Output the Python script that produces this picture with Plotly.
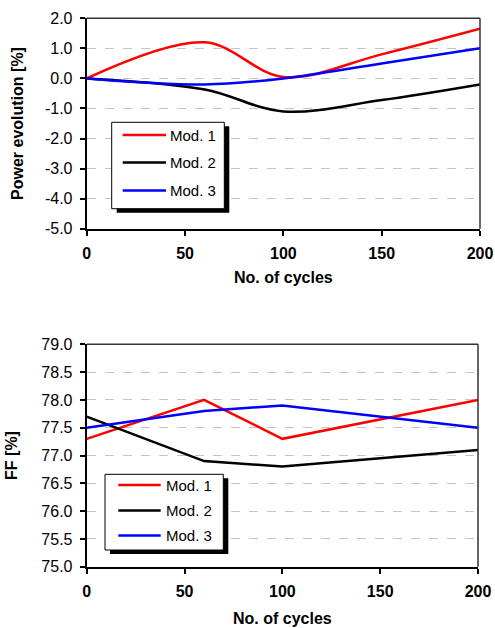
import plotly.graph_objects as go

# ---- data ----
cycles = [0, 60, 100, 150, 200]
power_mod1 = [0.0, 1.2, 0.05, 0.8, 1.65]
power_mod2 = [0.0, -0.37, -1.1, -0.72, -0.2]
power_mod3 = [0.0, -0.2, 0.0, 0.5, 1.0]

ff_cycles = [0, 60, 100, 200]
ff_mod1 = [77.3, 78.0, 77.3, 78.0]
ff_mod2 = [77.7, 76.9, 76.8, 77.1]
ff_mod3 = [77.5, 77.8, 77.9, 77.5]

names = ["Mod. 1", "Mod. 2", "Mod. 3"]
colors = ["#ff0000", "#000000", "#0000ff"]

power_ticks = [2.0, 1.0, 0.0, -1.0, -2.0, -3.0, -4.0, -5.0]
power_ticklabels = ["2.0", "1.0", "0.0", "-1.0", "-2.0", "-3.0", "-4.0", "-5.0"]
ff_ticks = [79.0, 78.5, 78.0, 77.5, 77.0, 76.5, 76.0, 75.5, 75.0]
ff_ticklabels = ["79.0", "78.5", "78.0", "77.5", "77.0", "76.5", "76.0", "75.5", "75.0"]

W, H = 495, 628
FONT = "Liberation Sans, Arial, sans-serif"

def px(x):
    return x / W

def py(y):
    return 1 - y / H

fig = go.Figure()

for vals, nm, c in zip([power_mod1, power_mod2, power_mod3], names, colors):
    fig.add_trace(go.Scatter(x=cycles, y=vals, name=nm, mode="lines",
                             line=dict(color=c, width=2.5, shape="spline", smoothing=1),
                             xaxis="x", yaxis="y", showlegend=False))
for vals, nm, c in zip([ff_mod1, ff_mod2, ff_mod3], names, colors):
    fig.add_trace(go.Scatter(x=ff_cycles, y=vals, name=nm, mode="lines",
                             line=dict(color=c, width=2.5),
                             xaxis="x2", yaxis="y2", showlegend=False))

def xax(standoff):
    return dict(range=[0, 200], dtick=50, tick0=0, showline=True, linecolor="black", linewidth=2,
                ticks="outside", ticklen=5, tickwidth=2, tickcolor="black", automargin=False,
                tickfont=dict(family=FONT, size=16, color="black", weight="bold"),
                showgrid=False, zeroline=False, ticklabelstandoff=4,
                title=dict(text="<b>No. of cycles</b>", font=dict(family=FONT, size=16, color="black"),
                           standoff=standoff))

yax = dict(showline=True, linecolor="black", linewidth=2, automargin=False,
           ticks="outside", ticklen=5, tickwidth=2, tickcolor="black",
           tickfont=dict(family=FONT, size=16, color="black"),
           showgrid=True, gridcolor="#c4c4c4", griddash="dash", gridwidth=1,
           zeroline=False, ticklabelstandoff=4, tickmode="array")

fig.update_layout(
    width=W, height=H, margin=dict(l=0, r=0, t=0, b=0, autoexpand=False),
    paper_bgcolor="white", plot_bgcolor="white",
    font=dict(family=FONT, color="black"),
    xaxis=dict(xax(11), domain=[px(86.7), px(480)], anchor="y"),
    yaxis=dict(yax, domain=[py(228.7), py(18.3)], range=[-5, 2], anchor="x",
               tickvals=power_ticks, ticktext=power_ticklabels,
               title=dict(text="<b>Power evolution [%]</b>", font=dict(family=FONT, size=16, color="black"),
                          standoff=17)),
    xaxis2=dict(xax(14), domain=[px(86.7), px(478)], anchor="y2"),
    yaxis2=dict(yax, domain=[py(566.7), py(344.3)], range=[75, 79], anchor="x2",
                tickvals=ff_ticks, ticktext=ff_ticklabels,
                title=dict(text="<b>FF [%]</b>", font=dict(family=FONT, size=16, color="black"),
                           standoff=20)),
)

shapes = []
annotations = []
# top / right frame lines
for xa, ya in [("x", "y"), ("x2", "y2")]:
    shapes.append(dict(type="line", xref=f"{xa} domain", yref=f"{ya} domain", x0=0, x1=1, y0=1, y1=1,
                       line=dict(color="#333333", width=1.5)))
    shapes.append(dict(type="line", xref=f"{xa} domain", yref=f"{ya} domain", x0=1, x1=1, y0=0, y1=1,
                       line=dict(color="#333333", width=1.5)))

def legend(box, rows, lx0, lx1, tx):
    x0, y0, x1, y1 = box
    shapes.append(dict(type="rect", xref="paper", yref="paper", layer="above",
                       x0=px(x0 + 5), x1=px(x1 + 5), y0=py(y0 + 4), y1=py(y1 + 4),
                       fillcolor="black", line=dict(width=0)))
    shapes.append(dict(type="rect", xref="paper", yref="paper", layer="above",
                       x0=px(x0), x1=px(x1), y0=py(y0), y1=py(y1),
                       fillcolor="white", line=dict(color="black", width=1)))
    for ry, nm, c in zip(rows, names, colors):
        shapes.append(dict(type="line", xref="paper", yref="paper", layer="above",
                           x0=px(lx0), x1=px(lx1), y0=py(ry), y1=py(ry),
                           line=dict(color=c, width=2.5)))
        annotations.append(dict(text=nm, xref="paper", yref="paper", x=px(tx), y=py(ry),
                                xanchor="left", yanchor="middle", showarrow=False,
                                font=dict(family=FONT, size=15, color="black")))

legend((111.7, 122.3, 224.3, 208.7), [135, 162.5, 190.5], 122.7, 166, 167.5)
legend((105, 474.3, 223.3, 550), [485, 510.5, 535.5], 118.3, 160.7, 163.5)

fig.update_layout(shapes=shapes, annotations=annotations)
fig.write_html("out.html", config={"displayModeBar": False},
               post_script="document.body.style.margin='0';document.body.style.overflow='hidden';")
